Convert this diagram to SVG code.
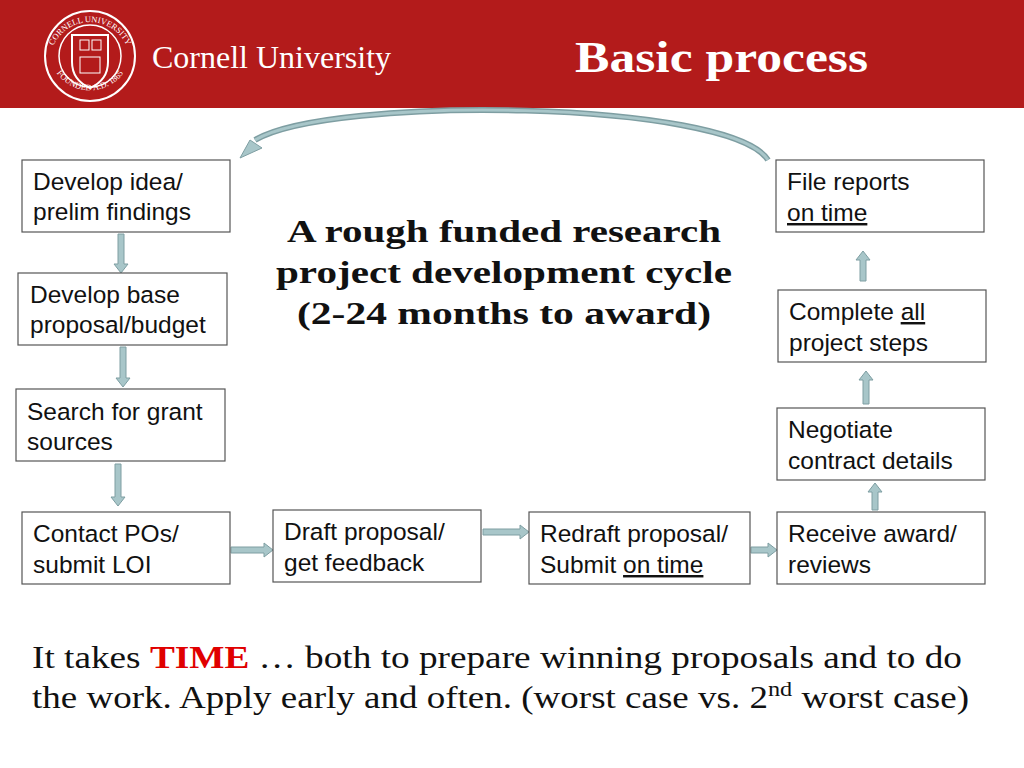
<svg xmlns="http://www.w3.org/2000/svg" width="1024" height="768" viewBox="0 0 1024 768">
<style>
.box{fill:#fff;stroke:#555;stroke-width:1.2}
.t{font-family:"Liberation Sans",Arial,sans-serif;font-size:24.5px;fill:#111}
.s{font-family:"Liberation Serif","Times New Roman",serif;font-weight:bold}
.ba{fill:#a8c6c9;stroke:#7e9ea2;stroke-width:1}
.seal{font-family:"Liberation Serif",serif;font-size:8.5px;fill:#fff}
</style>
<defs>
<path id="top" d="M50,62 A40,40 0 0 1 130,62"/>
<path id="bot" d="M51,62 A41,41 0 0 0 129,62"/>
</defs>
<rect x="0" y="0" width="1024" height="108" fill="#b31b1b"/>
<g id="logo" fill="none" stroke="#fff">
<circle cx="90" cy="56" r="45" stroke-width="2"/>
<circle cx="90" cy="56" r="31" stroke-width="1.5"/>
<path d="M72,35 H108 V62 Q108,80 90,88 Q72,80 72,62 Z" stroke-width="2"/>
<rect x="80" y="40" width="9" height="10"/><rect x="92" y="40" width="9" height="10"/>
<rect x="80" y="57" width="20" height="16"/>
<text class="seal" stroke="none" text-anchor="middle"><textPath href="#top" startOffset="50%">CORNELL UNIVERSITY</textPath></text>
<text class="seal" stroke="none" text-anchor="middle"><textPath href="#bot" startOffset="50%">FOUNDED A.D. 1865</textPath></text>
</g>
<text x="152" y="68" font-family="Liberation Serif,serif" font-size="32" fill="#fff">Cornell University</text>
<text x="575" y="72" textLength="293" lengthAdjust="spacingAndGlyphs" class="s" font-size="44" fill="#fff">Basic process</text>

<g id="connectors">
<path d="M768,160 C730,100 330,95 255,140" fill="none" stroke="#7e9ea2" stroke-width="6"/>
<path d="M768,160 C730,100 330,95 255,140" fill="none" stroke="#a8c6c9" stroke-width="3"/>
<polygon class="ba" points="240,158 250,140 262,148"/>
<polygon class="ba" points="118,234 124,234 124,264 128,264 121,273 114,264 118,264"/>
<polygon class="ba" points="120,347 126,347 126,378 130,378 123,387 116,378 120,378"/>
<polygon class="ba" points="115,464 121,464 121,497 125,497 118,506 111,497 115,497"/>
<polygon class="ba" points="231,547 264,547 264,543 273,550 264,557 264,553 231,553"/>
<polygon class="ba" points="483,529 520,529 520,525 529,532 520,539 520,535 483,535"/>
<polygon class="ba" points="751,547 768,547 768,543 777,550 768,557 768,553 751,553"/>
<polygon class="ba" points="872,510 878,510 878,492 882,492 875,483 868,492 872,492"/>
<polygon class="ba" points="863,404 869,404 869,380 873,380 866,371 859,380 863,380"/>
<polygon class="ba" points="860,281 866,281 866,260 870,260 863,251 856,260 860,260"/>
</g>

<g id="n1"><rect class="box" x="22" y="160" width="208" height="72"/><text class="t" x="33" y="190">Develop idea/</text><text class="t" x="33" y="220">prelim findings</text></g>
<g id="n2"><rect class="box" x="18" y="273" width="209" height="72"/><text class="t" x="30" y="303">Develop base</text><text class="t" x="30" y="333">proposal/budget</text></g>
<g id="n3"><rect class="box" x="16" y="389" width="209" height="72"/><text class="t" x="27" y="420">Search for grant</text><text class="t" x="27" y="450">sources</text></g>
<g id="n4"><rect class="box" x="22" y="512" width="208" height="72"/><text class="t" x="33" y="542">Contact POs/</text><text class="t" x="33" y="573">submit LOI</text></g>
<g id="n5"><rect class="box" x="273" y="510" width="208" height="72"/><text class="t" x="284" y="540">Draft proposal/</text><text class="t" x="284" y="571">get feedback</text></g>
<g id="n6"><rect class="box" x="529" y="512" width="221" height="72"/><text class="t" x="540" y="542">Redraft proposal/</text><text class="t" x="540" y="573">Submit <tspan text-decoration="underline">on time</tspan></text></g>
<g id="n7"><rect class="box" x="777" y="512" width="208" height="72"/><text class="t" x="788" y="542">Receive award/</text><text class="t" x="788" y="573">reviews</text></g>
<g id="n8"><rect class="box" x="777" y="408" width="208" height="72"/><text class="t" x="788" y="438">Negotiate</text><text class="t" x="788" y="469">contract details</text></g>
<g id="n9"><rect class="box" x="778" y="290" width="208" height="72"/><text class="t" x="789" y="320">Complete <tspan text-decoration="underline">all</tspan></text><text class="t" x="789" y="351">project steps</text></g>
<g id="n10"><rect class="box" x="776" y="160" width="208" height="72"/><text class="t" x="787" y="190">File reports</text><text class="t" x="787" y="221" text-decoration="underline">on time</text></g>

<g class="s" font-size="32" fill="#111" text-anchor="middle" lengthAdjust="spacingAndGlyphs">
<text x="504" y="242" textLength="434" lengthAdjust="spacingAndGlyphs">A rough funded research</text>
<text x="504" y="283" textLength="456" lengthAdjust="spacingAndGlyphs">project development cycle</text>
<text x="504" y="324" textLength="414" lengthAdjust="spacingAndGlyphs">(2-24 months to award)</text>
</g>
<g font-family="Liberation Serif,serif" font-size="32" fill="#111">
<text x="32" y="668" textLength="930" lengthAdjust="spacingAndGlyphs">It takes <tspan fill="#e00000" font-weight="bold">TIME</tspan> … both to prepare winning proposals and to do</text>
<text x="32" y="708" textLength="937" lengthAdjust="spacingAndGlyphs">the work. Apply early and often. (worst case vs. 2<tspan font-size="21" dy="-12">nd</tspan><tspan dy="12"> worst case)</tspan></text>
</g>
</svg>
